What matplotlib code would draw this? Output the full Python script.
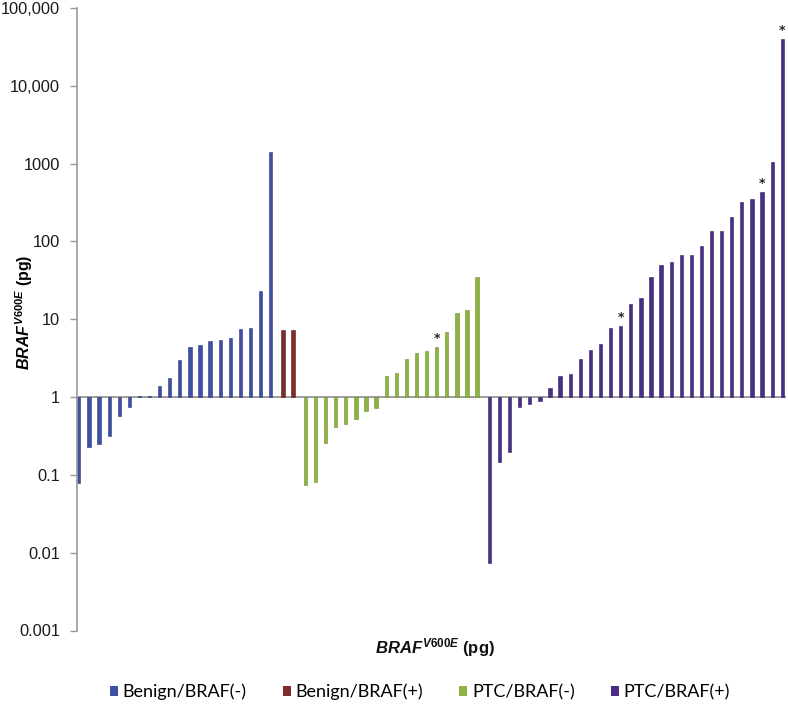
import numpy as np
import matplotlib
matplotlib.use("Agg")
import matplotlib.pyplot as plt
from matplotlib.patches import Patch
from matplotlib.ticker import FixedLocator, FixedFormatter, NullLocator

plt.rcParams['mathtext.fontset'] = 'custom'
plt.rcParams['mathtext.it'] = 'Liberation Sans:italic:bold'
plt.rcParams['mathtext.rm'] = 'Liberation Sans:bold'
plt.rcParams['mathtext.bf'] = 'Liberation Sans:bold'

# ---- data (pg) ----
groups = ["Benign/BRAF(-)", "Benign/BRAF(+)", "PTC/BRAF(-)", "PTC/BRAF(+)"]
benign_neg = [0.078, 0.23, 0.25, 0.32, 0.575, 0.74, 1.04, 1.04, 1.37, 1.77,
              3.0, 4.36, 4.66, 5.24, 5.34, 5.73, 7.6, 7.77, 22.8, 1390]
benign_pos = [7.18, 7.18]
ptc_neg = [0.074, 0.082, 0.26, 0.415, 0.45, 0.52, 0.67, 0.73, 1.86, 2.05,
           3.05, 3.7, 3.94, 4.4, 6.8, 11.9, 13.2, 34.9]
ptc_pos = [0.0073, 0.146, 0.196, 0.735, 0.81, 0.89, 1.29, 1.88, 1.99, 3.09,
           4.05, 4.8, 7.7, 8.2, 15.5, 18.9, 34.8, 50, 54, 66,
           67, 88, 137, 137, 204, 323, 349, 436, 1036, 40300]
# indices (within each group) of bars marked with an asterisk
star_ptc_neg = [13]
star_ptc_pos = [13, 27, 29]

yticks = [1e-3, 1e-2, 1e-1, 1, 10, 100, 1000, 1e4, 1e5]
ytick_labels = ["0.001", "0.01", "0.1", "1", "10", "100", "1000", "10,000", "100,000"]

colors = ["#3F4FA3", "#7E2B2A", "#8DB443", "#4A2E85"]
edge_colors = ["#2C3A80", "#5E1C1C", "#6C8F2E", "#33206A"]

series = [benign_neg, benign_pos, ptc_neg, ptc_pos]

fig = plt.figure(figsize=(7.88, 7.06), dpi=100)
ax = fig.add_axes([76.5 / 788, 1 - 630.5 / 706, (786 - 76.5) / 788, (630.5 - 8) / 706])
ax.set_yscale('log')

gap = 0.22
start = 0
xs_all = []
for gi, vals in enumerate(series):
    v = np.array(vals, dtype=float)
    x = np.arange(len(v)) + start + gi * gap
    xs_all.append(x)
    ax.bar(x, v - 1, bottom=1, width=0.32, color=colors[gi],
           edgecolor=edge_colors[gi], linewidth=0.4, zorder=2)
    start += len(v)

# asterisks
for gi, idxs in [(2, star_ptc_neg), (3, star_ptc_pos)]:
    for i in idxs:
        ax.text(xs_all[gi][i], series[gi][i] * 1.06, "*", ha='center', va='bottom',
                fontsize=9, fontweight='bold', color='#222222', zorder=3)

ax.set_ylim(1e-3, 1e5)
ax.set_xlim(-0.23, xs_all[-1][-1] + 0.37)
ax.axhline(1, color='#8C8C8C', linewidth=1.2, zorder=1)

ax.yaxis.set_major_locator(FixedLocator(yticks))
ax.yaxis.set_major_formatter(FixedFormatter(ytick_labels))
ax.yaxis.set_minor_locator(NullLocator())
ax.tick_params(axis='y', direction='out', length=5, width=1, color='#9A9A9A',
               labelsize=11.8, pad=7)
for lab in ax.get_yticklabels():
    lab.set_fontfamily('Liberation Sans')
    lab.set_color('#1A1A1A')
ax.set_xticks([])
for s in ['top', 'right', 'bottom']:
    ax.spines[s].set_visible(False)
ax.spines['left'].set_color('#9A9A9A')
ax.spines['left'].set_linewidth(1.2)

ax.set_ylabel(r"$\mathit{BRAF}^{\mathit{V600E}}$ (pg)", fontsize=11.5,
              fontweight='bold', family='Liberation Sans', labelpad=4)
ax.yaxis.set_label_coords(-0.058, 0.512)

fig.text(435 / 788, 1 - 648 / 706, r"$\mathit{BRAF}^{\mathit{V600E}}$ (pg)",
         fontsize=12, fontweight='bold', family='Liberation Sans',
         ha='center', va='center', color='#111111')

handles = [Patch(facecolor=c, edgecolor='none') for c in colors]
leg = fig.legend(handles, groups, loc='center', bbox_to_anchor=(420 / 788, 1 - 692 / 706),
                 ncol=4, frameon=False, handlelength=0.45, handleheight=0.45,
                 handletextpad=0.25, columnspacing=2.0,
                 prop={'family': 'Lato', 'size': 13})

fig.savefig("out.png", dpi=100)
